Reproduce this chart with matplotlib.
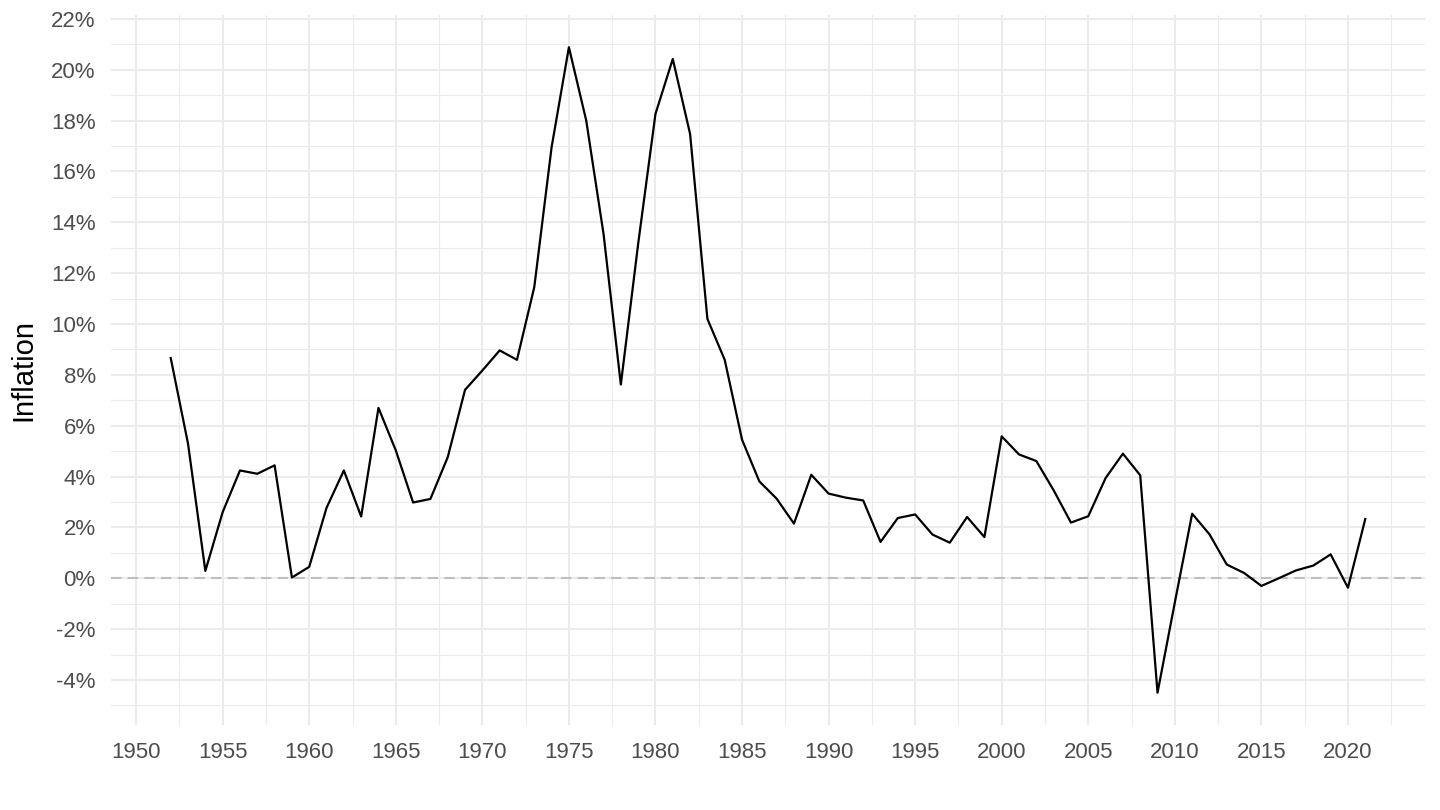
import matplotlib
matplotlib.use('Agg')
import matplotlib.pyplot as plt
from matplotlib.ticker import MultipleLocator, FuncFormatter

plt.rcParams['font.family'] = ['Liberation Sans', 'DejaVu Sans']

# yearly inflation, in percent
years = list(range(1952, 2022))
inflation = [
    8.66, 5.29, 0.29, 2.60, 4.24, 4.11, 4.44, 0.03, 0.45, 2.77,
    4.24, 2.43, 6.70, 5.03, 2.98, 3.12, 4.76, 7.41, 8.17, 8.96,
    8.59, 11.45, 16.95, 20.88, 18.00, 13.54, 7.62, 13.15, 18.26, 20.42,
    17.47, 10.20, 8.59, 5.45, 3.81, 3.13, 2.15, 4.07, 3.33, 3.17,
    3.06, 1.43, 2.37, 2.51, 1.72, 1.40, 2.41, 1.62, 5.58, 4.87,
    4.61, 3.46, 2.19, 2.44, 3.94, 4.90, 4.05, -4.50, -0.95, 2.54,
    1.73, 0.54, 0.21, -0.30, 0.00, 0.31, 0.50, 0.94, -0.37, 2.33,
]
y_label = 'Inflation'

fig = plt.figure(figsize=(14.4, 8.1), dpi=100)
ax = fig.add_axes([111 / 1440, 85 / 810, 1314 / 1440, 710 / 810])

ax.axhline(0, color='#BEBEBE', linewidth=1.5, dashes=(5, 3), zorder=2)
ax.plot(years, inflation, color='black', linewidth=1.6, zorder=3)

# ggplot-like expansion of 5%
x0, x1 = min(years), max(years)
ax.set_xlim(x0 - 0.05 * (x1 - x0), x1 + 0.05 * (x1 - x0))
y0, y1 = min(inflation), max(inflation)
ax.set_ylim(y0 - 0.05 * (y1 - y0), y1 + 0.05 * (y1 - y0))

ax.xaxis.set_major_locator(MultipleLocator(5))
ax.xaxis.set_minor_locator(MultipleLocator(2.5))
ax.yaxis.set_major_locator(MultipleLocator(2))
ax.yaxis.set_minor_locator(MultipleLocator(1))
ax.yaxis.set_major_formatter(FuncFormatter(lambda v, p: f'{v:.0f}%'))
ax.xaxis.set_major_formatter(FuncFormatter(lambda v, p: f'{v:.0f}'))

ax.grid(which='major', color='#EBEBEB', linewidth=1.5, zorder=0)
ax.grid(which='minor', color='#EBEBEB', linewidth=0.8, zorder=0)
ax.set_axisbelow(True)

for s in ax.spines.values():
    s.set_visible(False)
ax.tick_params(which='both', length=0)
ax.tick_params(axis='x', labelsize=16, labelcolor='#4D4D4D', pad=12)
ax.tick_params(axis='y', labelsize=16, labelcolor='#4D4D4D', pad=11)

ax.set_ylabel(y_label, fontsize=21, color='black', labelpad=10)

fig.savefig('out.png', dpi=100, facecolor='white')
